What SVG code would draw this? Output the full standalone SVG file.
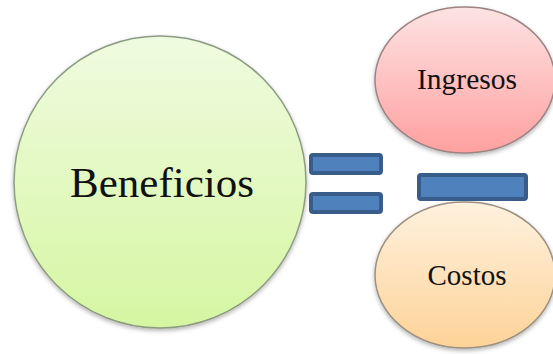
<svg xmlns="http://www.w3.org/2000/svg" width="553" height="354" viewBox="0 0 553 354">
<defs>
<linearGradient id="gGreen" x1="0" y1="0" x2="0" y2="1">
<stop offset="0" stop-color="#effbe0"/>
<stop offset="1" stop-color="#d6f6a2"/>
</linearGradient>
<linearGradient id="gPink" x1="0" y1="0" x2="0" y2="1">
<stop offset="0" stop-color="#fde3e3"/>
<stop offset="1" stop-color="#ffa0a0"/>
</linearGradient>
<linearGradient id="gOrange" x1="0" y1="0" x2="0" y2="1">
<stop offset="0" stop-color="#fff1df"/>
<stop offset="1" stop-color="#fdd397"/>
</linearGradient>
<filter id="shadow" x="-10%" y="-10%" width="120%" height="125%">
<feDropShadow dx="0" dy="2" stdDeviation="2" flood-color="#000" flood-opacity="0.3"/>
</filter>
</defs>
<style>
.node{stroke-width:1.5;filter:url(#shadow)}
.lbl{font-family:"Liberation Serif","Times New Roman",serif;fill:#111;text-anchor:middle}
.bar{fill:#4f81bd;stroke:#385d8a;stroke-width:4}
</style>
<g id="beneficios">
<circle class="node" cx="160" cy="182" r="146" fill="url(#gGreen)" stroke="#8c9c80"/>
<text class="lbl" x="162" y="197" font-size="43">Beneficios</text>
</g>
<g id="ingresos">
<ellipse class="node" cx="465" cy="80" rx="90" ry="73" fill="url(#gPink)" stroke="#9c8484"/>
<text class="lbl" x="467" y="89" font-size="29.5">Ingresos</text>
</g>
<g id="costos">
<ellipse class="node" cx="465" cy="275" rx="90" ry="73" fill="url(#gOrange)" stroke="#9c9080"/>
<text class="lbl" x="467" y="285" font-size="29">Costos</text>
</g>
<g id="connectors">
<rect class="bar" x="311" y="155" width="70" height="18" rx="2"/>
<rect class="bar" x="311" y="194" width="70" height="18" rx="2"/>
<rect class="bar" x="419" y="175" width="107" height="24" rx="2"/>
</g>
</svg>
